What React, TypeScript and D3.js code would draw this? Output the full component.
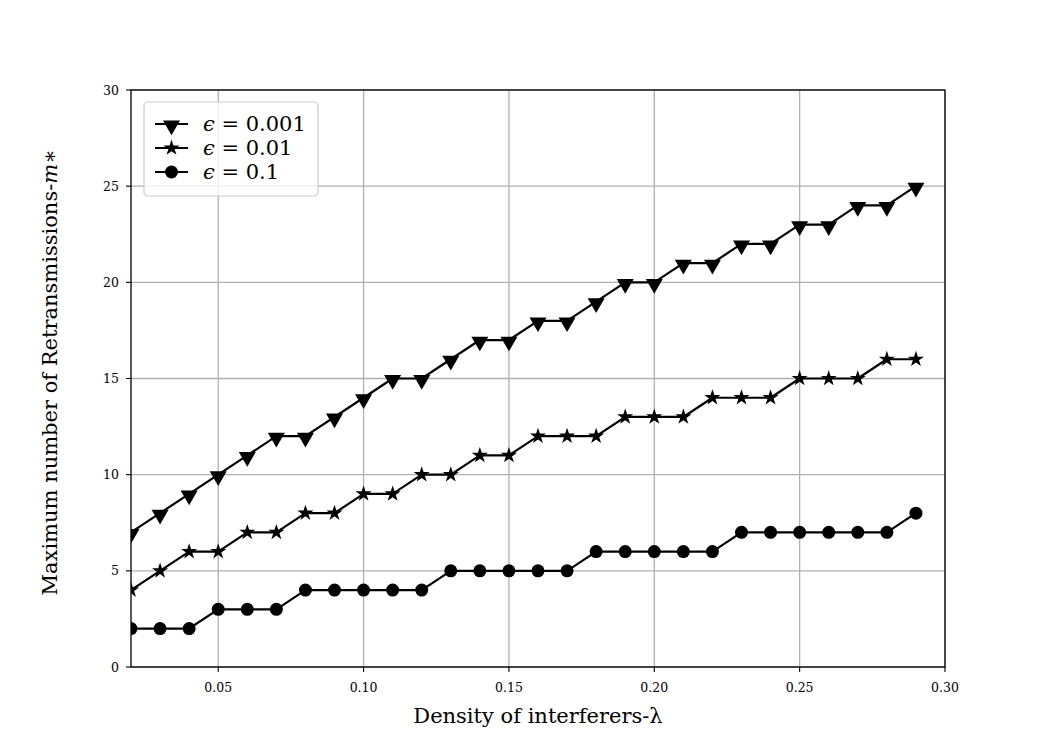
import * as d3 from 'd3';

const lambdas = [
  0.02, 0.03, 0.04, 0.05, 0.06, 0.07, 0.08, 0.09, 0.1, 0.11, 0.12, 0.13, 0.14, 0.15,
  0.16, 0.17, 0.18, 0.19, 0.2, 0.21, 0.22, 0.23, 0.24, 0.25, 0.26, 0.27, 0.28, 0.29,
];
const eps0001 = [7, 8, 9, 10, 11, 12, 12, 13, 14, 15, 15, 16, 17, 17, 18, 18, 19, 20, 20, 21, 21, 22, 22, 23, 23, 24, 24, 25];
const eps001 = [4, 5, 6, 6, 7, 7, 8, 8, 9, 9, 10, 10, 11, 11, 12, 12, 12, 13, 13, 13, 14, 14, 14, 15, 15, 15, 16, 16];
const eps01 = [2, 2, 2, 3, 3, 3, 4, 4, 4, 4, 4, 5, 5, 5, 5, 5, 6, 6, 6, 6, 6, 7, 7, 7, 7, 7, 7, 8];
const xTicks = [0.05, 0.1, 0.15, 0.2, 0.25, 0.3];
const yTicks = [0, 5, 10, 15, 20, 25, 30];
const legendLabels = ['0.001', '0.01', '0.1'];

const W = 1050;
const H = 750;
const m = { left: 131, right: 945, top: 90, bottom: 667 };
const font = "'DejaVu Serif', 'Liberation Serif', serif";

type Marker = 'tri' | 'star' | 'circle';

function MarkerShape({ kind, x, y }: { kind: Marker; x: number; y: number }) {
  if (kind === 'circle') return <circle cx={x} cy={y} r={6.5} fill="#000" />;
  if (kind === 'tri') {
    const s = d3.symbol(d3.symbolTriangle, 125)() ?? '';
    return <path d={s} transform={`translate(${x},${y + 1.5}) rotate(180)`} fill="#000" />;
  }
  const s = d3.symbol(d3.symbolStar, 80)() ?? '';
  return <path d={s} transform={`translate(${x},${y})`} fill="#000" />;
}

export default function App() {
  const x = d3.scaleLinear().domain([0.02, 0.3]).range([m.left, m.right]);
  const y = d3.scaleLinear().domain([0, 30]).range([m.bottom, m.top]);

  const series: { vals: number[]; marker: Marker }[] = [
    { vals: eps0001, marker: 'tri' },
    { vals: eps001, marker: 'star' },
    { vals: eps01, marker: 'circle' },
  ];

  const line = d3
    .line<number>()
    .x((_, i) => x(lambdas[i]))
    .y((d) => y(d));

  return (
    <svg width={W} height={H} style={{ display: 'block', margin: -8 }} fontFamily={font}>
      <rect width={W} height={H} fill="#fff" />
      <defs>
        <clipPath id="plot">
          <rect x={m.left} y={m.top} width={m.right - m.left} height={m.bottom - m.top} />
        </clipPath>
      </defs>

      {/* grid */}
      {xTicks.map((t) => (
        <line key={'gx' + t} x1={x(t)} x2={x(t)} y1={m.top} y2={m.bottom} stroke="#b0b0b0" strokeWidth={1.3} />
      ))}
      {yTicks.map((t) => (
        <line key={'gy' + t} x1={m.left} x2={m.right} y1={y(t)} y2={y(t)} stroke="#b0b0b0" strokeWidth={1.3} />
      ))}

      <g clipPath="url(#plot)">
        {series.map((s, si) => (
          <g key={si}>
            <path d={line(s.vals) ?? ''} fill="none" stroke="#000" strokeWidth={2.2} strokeLinejoin="round" />
            {s.vals.map((v, i) => (
              <MarkerShape key={i} kind={s.marker} x={x(lambdas[i])} y={y(v)} />
            ))}
          </g>
        ))}
      </g>

      {/* frame */}
      <rect x={m.left} y={m.top} width={m.right - m.left} height={m.bottom - m.top} fill="none" stroke="#000" strokeWidth={1.3} />

      {/* ticks */}
      {xTicks.map((t) => (
        <g key={'tx' + t}>
          <line x1={x(t)} x2={x(t)} y1={m.bottom} y2={m.bottom + 5} stroke="#000" strokeWidth={1.1} />
          <text x={x(t)} y={m.bottom + 25} textAnchor="middle" fontSize={12.5}>
            {t.toFixed(2)}
          </text>
        </g>
      ))}
      {yTicks.map((t) => (
        <g key={'ty' + t}>
          <line x1={m.left - 5} x2={m.left} y1={y(t)} y2={y(t)} stroke="#000" strokeWidth={1.1} />
          <text x={m.left - 12} y={y(t) + 4.5} textAnchor="end" fontSize={12.5}>
            {t}
          </text>
        </g>
      ))}

      {/* axis labels */}
      <text x={(m.left + m.right) / 2} y={723} textAnchor="middle" fontSize={21}>
        Density of interferers-λ
      </text>
      <text transform={`translate(57,${(m.top + m.bottom) / 2 - 6}) rotate(-90)`} textAnchor="middle" fontSize={21}>
        Maximum number of Retransmissions-<tspan fontStyle="italic">m</tspan>∗
      </text>

      {/* legend */}
      <rect x={144} y={102} width={174} height={94} rx={4} fill="#fff" fillOpacity={0.8} stroke="#cccccc" strokeWidth={1.2} />
      {series.map((s, i) => {
        const ly = 124 + i * 24;
        return (
          <g key={'lg' + i}>
            <line x1={155} x2={188} y1={ly} y2={ly} stroke="#000" strokeWidth={2.2} />
            <MarkerShape kind={s.marker} x={171.5} y={ly} />
            <text x={203} y={ly + 7} fontSize={21}>
              <tspan fontStyle="italic">ϵ</tspan> = {legendLabels[i]}
            </text>
          </g>
        );
      })}
    </svg>
  );
}
